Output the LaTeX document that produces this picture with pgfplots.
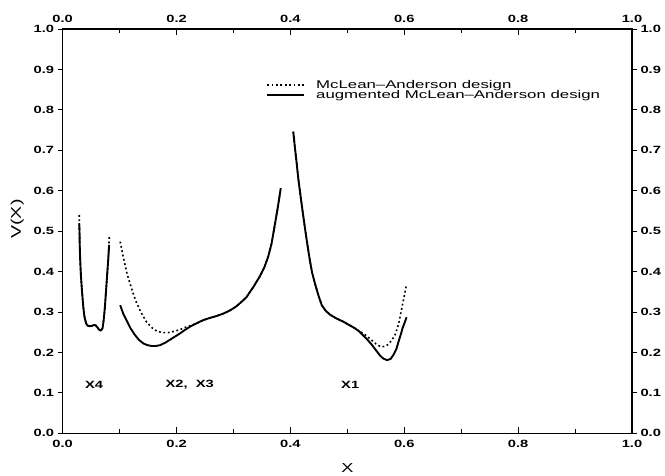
\documentclass[border=0pt]{standalone}
\usepackage{fontspec}
\setmainfont{Liberation Sans}
\newfontfamily\plotfont{Liberation Sans}[FakeStretch=1.4]
\newfontfamily\legfont{Liberation Sans}[FakeStretch=1.5]
\usepackage{pgfplots}
\pgfplotsset{compat=1.18}

\pgfplotsset{
  frame/.style={
    scale only axis, width=569.3pt, height=404.3pt,
    xmin=0, xmax=1, ymin=0, ymax=1,
    at={(0pt,0pt)}, anchor=south west,
    axis line style={line width=1.3pt},
    tick style={line width=0.9pt, black},
    /pgf/number format/assume math mode=true,
    /pgf/number format/fixed, /pgf/number format/fixed zerofill,
    /pgf/number format/precision=1,
    ticklabel style={font=\plotfont\bfseries\fontsize{10.5}{11}\selectfont},
  },
}

\begin{document}
\begin{tikzpicture}
\path[use as bounding box] (-62.7pt,-41.7pt) rectangle (602.3pt,433.3pt);

% data axis, x ticks inside, labels at the bottom
\begin{axis}[frame,
  xtick={0,0.2,0.4,0.6,0.8,1}, minor xtick={0.1,0.3,0.5,0.7,0.9},
  tick align=inside, xtick pos=both, xticklabel pos=lower,
  major tick length=6pt, minor tick length=4pt,
  xticklabel style={yshift=-3pt},
  ytick=\empty,
  xlabel={X},
  xlabel style={font=\plotfont\fontsize{13}{13}\selectfont, at={(axis description cs:0.5,-0.085)}, anchor=center},
  unbounded coords=jump,
  legend style={at={(axis cs:0.352,0.884)}, anchor=north west, draw=none, fill=none,
    font=\legfont\fontsize{11.2}{11.5}\selectfont, row sep=-3.5pt, column sep=9pt},
  legend cell align=left,
  legend image code/.code={\draw[#1] (0pt,0pt) -- (37pt,0pt);},
]
% McLean-Anderson design
\addplot[black, line width=1.6pt, dash pattern=on 1.8pt off 2.6pt] coordinates {
(0.029,0.540)(0.0295,0.50)(0.030,0.46)(0.031,0.42)(0.032,0.39)(0.034,0.35)(0.036,0.315)
(0.038,0.29)(0.041,0.272)(0.044,0.266)(0.048,0.265)(0.052,0.266)(0.055,0.268)(0.058,0.267)
(0.061,0.262)(0.064,0.256)(0.067,0.254)(0.070,0.260)(0.072,0.280)(0.074,0.310)(0.076,0.350)
(0.078,0.390)(0.080,0.430)(0.081,0.460)(0.082,0.490)
(0.09,nan)
(0.101,0.474)(0.105,0.445)(0.109,0.420)(0.113,0.395)(0.118,0.371)(0.124,0.345)(0.130,0.322)
(0.138,0.298)(0.147,0.276)(0.156,0.262)(0.165,0.253)(0.175,0.249)(0.185,0.249)(0.195,0.252)
(0.205,0.256)(0.215,0.262)(0.224,0.266)(0.235,0.272)(0.247,0.280)(0.260,0.286)(0.270,0.290)
(0.282,0.296)(0.294,0.304)(0.305,0.314)(0.314,0.325)(0.323,0.337)(0.329,0.350)(0.335,0.362)
(0.341,0.376)(0.347,0.390)(0.354,0.410)(0.361,0.437)(0.367,0.470)(0.373,0.519)(0.378,0.560)
(0.383,0.606)
(0.39,nan)
(0.405,0.746)(0.408,0.705)(0.411,0.668)(0.414,0.628)(0.418,0.585)(0.422,0.543)(0.426,0.503)
(0.430,0.465)(0.434,0.429)(0.438,0.398)(0.443,0.371)(0.449,0.342)(0.455,0.317)(0.462,0.303)
(0.470,0.293)(0.481,0.284)(0.493,0.276)(0.503,0.268)(0.513,0.260)(0.522,0.252)(0.530,0.245)
(0.538,0.236)(0.546,0.226)(0.553,0.218)(0.560,0.214)(0.566,0.215)(0.572,0.220)(0.578,0.230)
(0.584,0.244)(0.590,0.270)(0.595,0.305)(0.600,0.340)(0.604,0.369)
};
% augmented McLean-Anderson design
\addplot[black, line width=1.9pt, line join=round] coordinates {
(0.029,0.520)(0.0295,0.50)(0.030,0.46)(0.031,0.42)(0.032,0.39)(0.034,0.35)(0.036,0.315)
(0.038,0.29)(0.041,0.272)(0.044,0.266)(0.048,0.265)(0.052,0.266)(0.055,0.268)(0.058,0.267)
(0.061,0.262)(0.064,0.256)(0.067,0.254)(0.070,0.260)(0.072,0.280)(0.074,0.310)(0.076,0.350)
(0.078,0.390)(0.080,0.430)(0.0815,0.466)
(0.09,nan)
(0.101,0.317)(0.106,0.297)(0.112,0.280)(0.119,0.260)(0.127,0.243)(0.134,0.231)(0.142,0.222)
(0.149,0.218)(0.156,0.216)(0.164,0.216)(0.171,0.218)(0.180,0.224)(0.188,0.231)(0.197,0.239)
(0.206,0.247)(0.215,0.256)(0.224,0.264)(0.235,0.272)(0.247,0.280)(0.260,0.286)(0.270,0.290)
(0.282,0.296)(0.294,0.304)(0.305,0.314)(0.314,0.325)(0.323,0.337)(0.329,0.350)(0.335,0.362)
(0.341,0.376)(0.347,0.390)(0.354,0.410)(0.361,0.437)(0.367,0.470)(0.373,0.519)(0.378,0.560)
(0.383,0.606)
(0.39,nan)
(0.405,0.746)(0.408,0.705)(0.411,0.668)(0.414,0.628)(0.418,0.585)(0.422,0.543)(0.426,0.503)
(0.430,0.465)(0.434,0.429)(0.438,0.398)(0.443,0.371)(0.449,0.342)(0.455,0.317)(0.462,0.303)
(0.470,0.293)(0.481,0.284)(0.493,0.276)(0.503,0.268)(0.513,0.260)(0.520,0.253)(0.528,0.242)
(0.535,0.232)(0.543,0.219)(0.550,0.206)(0.557,0.193)(0.563,0.185)(0.570,0.181)(0.576,0.184)
(0.581,0.194)(0.586,0.208)(0.590,0.227)(0.594,0.245)(0.597,0.260)(0.601,0.275)(0.604,0.287)
};
\legend{McLean\textendash Anderson design, augmented McLean\textendash Anderson design}
\node[font=\plotfont\bfseries\fontsize{10.5}{11}\selectfont] at (axis cs:0.055,0.12) {X4};
\node[font=\plotfont\bfseries\fontsize{10.5}{11}\selectfont] at (axis cs:0.223,0.12) {X2,\ \ X3};
\node[font=\plotfont\bfseries\fontsize{10.5}{11}\selectfont] at (axis cs:0.505,0.12) {X1};
\end{axis}

% x labels on top
\begin{axis}[frame,
  xtick={0,0.2,0.4,0.6,0.8,1}, tick align=inside, major tick length=6pt,
  xtick pos=both, xticklabel pos=upper, ytick=\empty,
  xticklabel style={yshift=3pt},
]
\end{axis}

% y ticks outside, labels on the left
\begin{axis}[frame,
  xtick=\empty, ytick={0,0.1,0.2,0.3,0.4,0.5,0.6,0.7,0.8,0.9,1},
  tick align=outside, major tick length=5pt,
  ytick pos=both, yticklabel pos=left,
  ylabel={V(X)},
  ylabel style={font=\plotfont\fontsize{14}{14}\selectfont, at={(axis description cs:-0.08,0.53)}, anchor=center},
]
\end{axis}

% y labels on the right
\begin{axis}[frame,
  xtick=\empty, ytick={0,0.1,0.2,0.3,0.4,0.5,0.6,0.7,0.8,0.9,1},
  tick align=outside, major tick length=5pt,
  ytick pos=both, yticklabel pos=right,
]
\end{axis}
\end{tikzpicture}
\end{document}
